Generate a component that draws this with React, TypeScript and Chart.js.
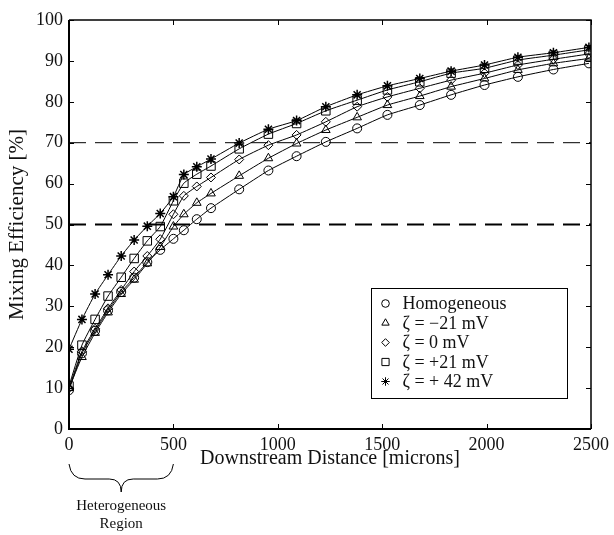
import React, { useEffect, useRef } from 'react';
import { Chart, registerables } from 'chart.js';

Chart.register(...registerables);

// ---- data ----
const distances = [0, 62, 125, 187, 250, 312, 375, 437, 500, 550, 612, 680, 815, 955, 1090, 1230, 1380, 1525, 1680, 1830, 1990, 2150, 2320, 2490];
const homogeneous = [9.5, 18.5, 24, 29, 33.5, 37, 40.8, 43.8, 46.5, 48.6, 51.3, 54.0, 58.6, 63.2, 66.7, 70.2, 73.5, 76.8, 79.2, 81.7, 84.1, 86.1, 87.9, 89.4];
const zetaMinus21 = [10, 17.6, 23.5, 28.5, 33, 36.5, 40.5, 44.5, 49.5, 52.5, 55.3, 57.6, 61.9, 66.2, 69.8, 73.1, 76.2, 79.2, 81.4, 83.7, 85.7, 87.8, 89.4, 90.6];
const zeta0 = [10, 19, 24.5, 29.5, 34, 38.5, 42.3, 46.4, 52.5, 57, 59.3, 61.5, 65.9, 69.4, 71.9, 75.1, 78.8, 81.2, 83.3, 85.3, 87, 89, 90.4, 91.7];
const zetaPlus21 = [10.5, 20.5, 26.8, 32.5, 37.1, 41.7, 46, 49.5, 55.8, 60.1, 62.3, 64.3, 68.5, 72.1, 74.7, 77.8, 80.4, 82.9, 84.9, 87, 88.2, 90.2, 91.4, 92.7];
const zetaPlus42 = [19.5, 26.8, 33, 37.7, 42.3, 46.2, 49.6, 52.7, 56.8, 62.2, 64.1, 66, 69.9, 73.3, 75.4, 78.8, 81.7, 83.9, 85.7, 87.5, 89, 90.9, 92, 93.3];

const seriesLabels = ['Homogeneous', 'ζ = −21 mV', 'ζ = 0 mV', 'ζ = +21 mV', 'ζ = + 42 mV'];
const seriesValues = [homogeneous, zetaMinus21, zeta0, zetaPlus21, zetaPlus42];

const xTicks = [0, 500, 1000, 1500, 2000, 2500];
const yTicks = [0, 10, 20, 30, 40, 50, 60, 70, 80, 90, 100];
const referenceLevels = [50, 70];
const regionRange = [0, 500];
const regionLabel = ['Heterogeneous', 'Region'];
const xTitle = 'Downstream Distance [microns]';
const yTitle = 'Mixing Efficiency [%]';

// ---- styles ----
const SERIF = '"Liberation Serif", "DejaVu Serif", serif';
const TEXT_COLOR = '#111';
const markerStyles = ['circle', 'triangle', 'rectRot', 'rect', 'star'];
const markerRadii = [4.5, 5, 4.5, 6, 5];
const refStyles: Record<number, { width: number; dash: number[] }> = {
  50: { width: 2, dash: [17, 9] },
  70: { width: 1, dash: [17, 9] },
};

function drawMarker(ctx: CanvasRenderingContext2D, style: string, x: number, y: number, r: number) {
  ctx.beginPath();
  if (style === 'circle') {
    ctx.arc(x, y, r, 0, Math.PI * 2);
  } else if (style === 'triangle') {
    ctx.moveTo(x, y - r);
    ctx.lineTo(x + r * 0.866, y + r * 0.5);
    ctx.lineTo(x - r * 0.866, y + r * 0.5);
    ctx.closePath();
  } else if (style === 'rectRot') {
    ctx.moveTo(x, y - r);
    ctx.lineTo(x + r, y);
    ctx.lineTo(x, y + r);
    ctx.lineTo(x - r, y);
    ctx.closePath();
  } else if (style === 'rect') {
    const s = r * Math.SQRT1_2;
    ctx.rect(x - s, y - s, 2 * s, 2 * s);
  } else if (style === 'star') {
    for (let i = 0; i < 4; i++) {
      const a = (i * Math.PI) / 4;
      ctx.moveTo(x + Math.cos(a) * r, y + Math.sin(a) * r);
      ctx.lineTo(x - Math.cos(a) * r, y - Math.sin(a) * r);
    }
  }
  ctx.stroke();
}

const decorPlugin = {
  id: 'decor',
  beforeDatasetsDraw(chart: any) {
    const { ctx, chartArea: a, scales } = chart;
    const y = scales.y;
    ctx.save();
    ctx.beginPath();
    ctx.rect(a.left, a.top, a.right - a.left, a.bottom - a.top);
    ctx.clip();
    ctx.strokeStyle = '#000';
    referenceLevels.forEach((lvl) => {
      const st = refStyles[lvl];
      const py = y.getPixelForValue(lvl);
      ctx.lineWidth = st.width;
      ctx.setLineDash(st.dash);
      ctx.beginPath();
      ctx.moveTo(a.left, py);
      ctx.lineTo(a.right, py);
      ctx.stroke();
    });
    ctx.restore();
  },
  afterDraw(chart: any) {
    const { ctx, chartArea: a, scales } = chart;
    const xs = scales.x;
    const ys = scales.y;
    ctx.save();
    ctx.strokeStyle = '#000';
    ctx.setLineDash([]);
    // frame
    ctx.lineWidth = 1.5;
    ctx.beginPath();
    ctx.moveTo(a.left, a.top);
    ctx.lineTo(a.right, a.top);
    ctx.lineTo(a.right, a.bottom);
    ctx.stroke();
    ctx.lineWidth = 2;
    ctx.beginPath();
    ctx.moveTo(a.left, a.top);
    ctx.lineTo(a.left, a.bottom);
    ctx.lineTo(a.right, a.bottom);
    ctx.stroke();
    // inward ticks
    ctx.lineWidth = 1;
    const tl = 5;
    xTicks.forEach((v) => {
      const px = Math.round(xs.getPixelForValue(v)) + 0.5;
      ctx.beginPath();
      ctx.moveTo(px, a.bottom);
      ctx.lineTo(px, a.bottom - tl);
      ctx.moveTo(px, a.top);
      ctx.lineTo(px, a.top + tl);
      ctx.stroke();
    });
    yTicks.forEach((v) => {
      const py = Math.round(ys.getPixelForValue(v)) + 0.5;
      ctx.beginPath();
      ctx.moveTo(a.left, py);
      ctx.lineTo(a.left + tl, py);
      ctx.moveTo(a.right, py);
      ctx.lineTo(a.right - tl, py);
      ctx.stroke();
    });

    // legend box
    const bx = a.right - 219.5;
    const by = a.top + 268.5;
    const bw = 196;
    const bh = 110;
    ctx.fillStyle = '#fff';
    ctx.fillRect(bx, by, bw, bh);
    ctx.lineWidth = 1;
    ctx.strokeRect(bx, by, bw, bh);
    ctx.font = `18px ${SERIF}`;
    ctx.fillStyle = TEXT_COLOR;
    ctx.textBaseline = 'middle';
    ctx.textAlign = 'left';
    seriesLabels.forEach((lbl, i) => {
      const ry = by + 15 + i * 19.5;
      drawMarker(ctx, markerStyles[i], bx + 14, ry, markerRadii[i] * 0.85);
      ctx.fillText(lbl, bx + 31, ry + 1);
    });

    // brace under heterogeneous region
    const x0 = xs.getPixelForValue(regionRange[0]);
    const x1 = xs.getPixelForValue(regionRange[1]);
    const xc = (x0 + x1) / 2;
    const yTop = a.bottom + 35;
    const yMid = a.bottom + 50;
    const yTip = a.bottom + 63;
    ctx.lineWidth = 1;
    ctx.beginPath();
    ctx.moveTo(x0, yTop);
    ctx.quadraticCurveTo(x0 + 2, yMid, x0 + 16, yMid);
    ctx.lineTo(xc - 12, yMid);
    ctx.quadraticCurveTo(xc, yMid, xc, yTip);
    ctx.quadraticCurveTo(xc, yMid, xc + 12, yMid);
    ctx.lineTo(x1 - 16, yMid);
    ctx.quadraticCurveTo(x1 - 2, yMid, x1, yTop);
    ctx.stroke();
    ctx.font = `15px ${SERIF}`;
    ctx.textAlign = 'center';
    regionLabel.forEach((t, i) => {
      ctx.fillText(t, xc, a.bottom + 77 + i * 18);
    });
    ctx.restore();
  },
};

export default function App() {
  const canvasRef = useRef<HTMLCanvasElement | null>(null);

  useEffect(() => {
    document.body.style.margin = '0';
    const canvas = canvasRef.current;
    if (!canvas) return;
    const datasets = seriesLabels.map((label, i) => ({
      label,
      data: distances.map((d, j) => ({ x: d, y: seriesValues[i][j] })),
      borderColor: '#000',
      borderWidth: 1,
      backgroundColor: 'rgba(0,0,0,0)',
      pointStyle: markerStyles[i] as any,
      pointRadius: markerRadii[i],
      pointBorderColor: '#000',
      pointBackgroundColor: 'rgba(0,0,0,0)',
      pointBorderWidth: i === 4 ? 1.5 : 1,
      tension: 0.15,
      fill: false,
    }));
    const chart = new Chart(canvas, {
      type: 'line',
      data: { datasets },
      plugins: [decorPlugin],
      options: {
        animation: false,
        responsive: false,
        devicePixelRatio: 1,
        layout: { padding: { top: 20, right: 23, left: 0, bottom: 0 } },
        plugins: { legend: { display: false }, tooltip: { enabled: false } },
        scales: {
          x: {
            type: 'linear',
            min: 0,
            max: 2500,
            afterFit: (s: any) => { s.height = 106; },
            afterBuildTicks: (s: any) => { s.ticks = xTicks.map((v) => ({ value: v })); },
            grid: { display: false, drawTicks: false },
            border: { display: false },
            ticks: {
              padding: 5,
              color: TEXT_COLOR,
              font: { family: SERIF, size: 18 },
              callback: (v: any) => String(v),
              maxRotation: 0,
            },
            title: {
              display: true,
              text: xTitle,
              color: TEXT_COLOR,
              font: { family: SERIF, size: 20 },
              padding: { top: 0, bottom: 64 },
            },
          },
          y: {
            type: 'linear',
            min: 0,
            max: 100,
            afterFit: (s: any) => { s.width = 69; },
            afterBuildTicks: (s: any) => { s.ticks = yTicks.map((v) => ({ value: v })); },
            grid: { display: false, drawTicks: false },
            border: { display: false },
            ticks: {
              padding: 6,
              color: TEXT_COLOR,
              font: { family: SERIF, size: 18 },
              callback: (v: any) => String(v),
            },
            title: {
              display: true,
              text: yTitle,
              color: TEXT_COLOR,
              font: { family: SERIF, size: 21 },
              padding: { top: 5, bottom: 0 },
            },
          },
        },
      },
    });
    return () => chart.destroy();
  }, []);

  return (
    <div style={{ width: 614, height: 535 }}>
      <canvas ref={canvasRef} width={614} height={535} />
    </div>
  );
}
